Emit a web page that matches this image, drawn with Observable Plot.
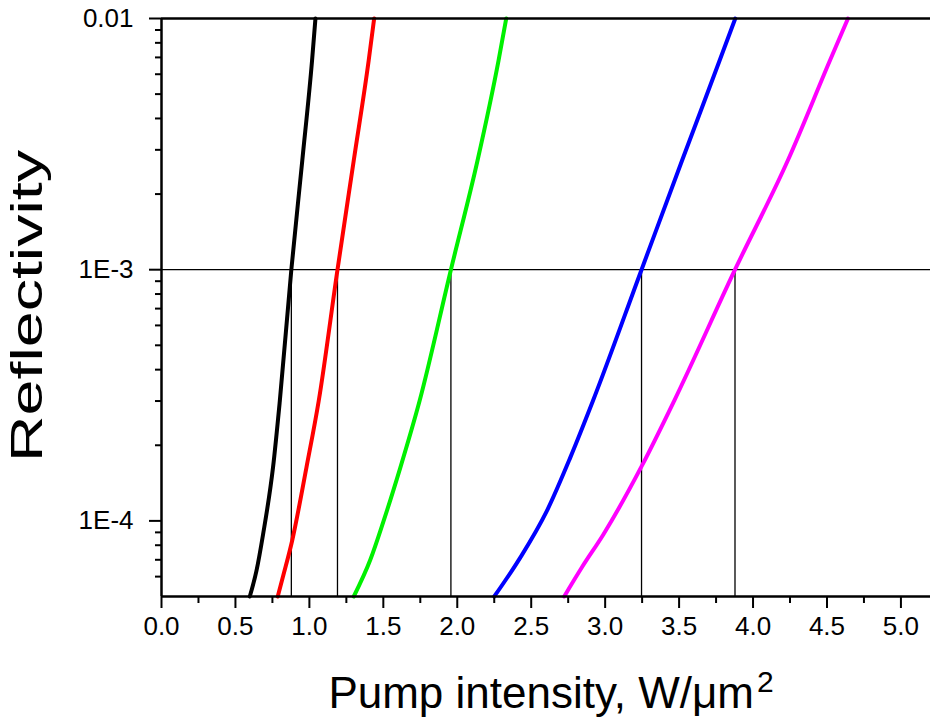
<!DOCTYPE html>
<html>
<head>
<meta charset="utf-8">
<script src="https://cdn.jsdelivr.net/npm/d3@7"></script>
<script src="https://cdn.jsdelivr.net/npm/@observablehq/plot@0.6"></script>
<style>
  html, body { margin: 0; padding: 0; background: #fff; }
</style>
</head>
<body>
<div id="chart"></div>
<script>
// ---- data ----
const seriesNames = ["curve 1", "curve 2", "curve 3", "curve 4", "curve 5"];
const seriesColors = ["#000000", "#ff0000", "#00f000", "#0000ff", "#ff00ff"];

const xBlack   = [0.597, 0.642, 0.687, 0.754, 0.800, 0.878, 0.952, 1.018, 1.041];
const yBlack   = [5e-5, 6.32e-5, 8.85e-5, 1.63e-4, 3.0e-4, 1e-3, 2.72e-3, 6.8e-3, 1e-2];
const xRed     = [0.786, 0.826, 0.883, 0.980, 1.063, 1.190, 1.300, 1.401, 1.438];
const yRed     = [5e-5, 6.14e-5, 8.32e-5, 1.63e-4, 3.0e-4, 1e-3, 2.72e-3, 6.8e-3, 1e-2];
const xGreen   = [1.300, 1.412, 1.502, 1.615, 1.745, 1.957, 2.137, 2.279, 2.331];
const yGreen   = [5e-5, 7.0e-5, 1e-4, 1.63e-4, 3.0e-4, 1e-3, 2.72e-3, 6.8e-3, 1e-2];
const xBlue    = [2.250, 2.426, 2.606, 2.764, 2.917, 3.246, 3.520, 3.774, 3.880];
const yBlue    = [5e-5, 7.14e-5, 1.096e-4, 1.786e-4, 3.0e-4, 1e-3, 2.72e-3, 6.8e-3, 1e-2];
const xMagenta = [2.723, 2.842, 2.989, 3.248, 3.466, 3.878, 4.235, 4.520, 4.642];
const yMagenta = [5e-5, 6.52e-5, 8.85e-5, 1.656e-4, 3.0e-4, 1e-3, 2.72e-3, 6.8e-3, 1e-2];

// intensities where each curve reaches R = 1E-3
const crossings = [0.878, 1.190, 1.957, 3.246, 3.878];
const thresholdR = 1e-3;

const xTicks = [0, 0.5, 1, 1.5, 2, 2.5, 3, 3.5, 4, 4.5, 5];
const xTickLabels = ["0.0", "0.5", "1.0", "1.5", "2.0", "2.5", "3.0", "3.5", "4.0", "4.5", "5.0"];
const xMinorTicks = [0.25, 0.75, 1.25, 1.75, 2.25, 2.75, 3.25, 3.75, 4.25, 4.75];
const yTicks = [1e-4, 1e-3, 1e-2];
const yTickLabels = ["1E-4", "1E-3", "0.01"];
const yMinorTicks = [6e-5, 7e-5, 8e-5, 9e-5, 2e-4, 3e-4, 4e-4, 5e-4, 6e-4, 7e-4, 8e-4, 9e-4,
                     2e-3, 3e-3, 4e-3, 5e-3, 6e-3, 7e-3, 8e-3, 9e-3];
const xDomain = [0, 5.2];
const yDomain = [5e-5, 0.01];

const xLabelText = "Pump intensity, W/\u03BCm";
const xLabelSup = "2";
const yLabelText = "Reflectivity";

// ---- build tidy table ----
const xs = [xBlack, xRed, xGreen, xBlue, xMagenta];
const ys = [yBlack, yRed, yGreen, yBlue, yMagenta];
const rows = [];
seriesNames.forEach((name, k) => {
  xs[k].forEach((x, i) => rows.push({series: name, x, r: ys[k][i]}));
});
const fmtX = d => xTickLabels[xTicks.indexOf(d)];
const fmtY = d => yTickLabels[yTicks.findIndex(t => Math.abs(t - d) / t < 1e-6)];

const chart = Plot.plot({
  width: 930,
  height: 719,
  marginLeft: 161,
  marginRight: 0,
  marginTop: 18,
  marginBottom: 123,
  style: {fontFamily: "'Liberation Sans', Arial, sans-serif", fontSize: "26px", color: "#000", background: "#fff", overflow: "visible"},
  x: {domain: xDomain},
  y: {type: "log", domain: yDomain},
  color: {domain: seriesNames, range: seriesColors},
  marks: [
    Plot.ruleY([thresholdR], {stroke: "#000", strokeWidth: 1.3}),
    Plot.ruleX(crossings, {x: d => d, y1: yDomain[0], y2: thresholdR, stroke: "#000", strokeWidth: 1.3}),
    Plot.line(rows, {x: "x", y: "r", z: "series", stroke: "series", strokeWidth: 4, curve: "monotone-x"}),
    Plot.axisX({ticks: xTicks, tickFormat: fmtX, tickSize: 12, tickPadding: 8, strokeWidth: 2, label: null}),
    Plot.axisX({ticks: xMinorTicks, tickFormat: () => "", tickSize: 7, strokeWidth: 2, label: null}),
    Plot.axisY({ticks: yTicks, tickFormat: fmtY, tickSize: 12, tickPadding: 16, strokeWidth: 2, label: null}),
    Plot.axisY({ticks: yMinorTicks, tickFormat: () => "", tickSize: 6, strokeWidth: 2, label: null}),
    Plot.ruleY([yDomain[1]], {stroke: "#000", strokeWidth: 2.5}),
    Plot.ruleY([yDomain[0]], {stroke: "#000", strokeWidth: 2.5}),
    Plot.ruleX([xDomain[0]], {stroke: "#000", strokeWidth: 2.5})
  ]
});

document.getElementById("chart").appendChild(chart);

// axis titles
const svg = d3.select(chart);
const xl = svg.append("text")
  .attr("x", 551).attr("y", 708)
  .attr("text-anchor", "middle")
  .attr("font-family", "'Liberation Sans', Arial, sans-serif")
  .attr("font-size", 44)
  .attr("fill", "#000");
xl.append("tspan").text(xLabelText);
xl.append("tspan").attr("font-size", 30).attr("dx", 3).attr("dy", -16).text(xLabelSup);

svg.append("text")
  .attr("transform", "translate(42,306) rotate(-90)")
  .attr("text-anchor", "middle")
  .attr("font-family", "'Liberation Sans', Arial, sans-serif")
  .attr("font-size", 44)
  .attr("textLength", 312)
  .attr("lengthAdjust", "spacingAndGlyphs")
  .attr("fill", "#000")
  .text(yLabelText);
</script>
</body>
</html>
